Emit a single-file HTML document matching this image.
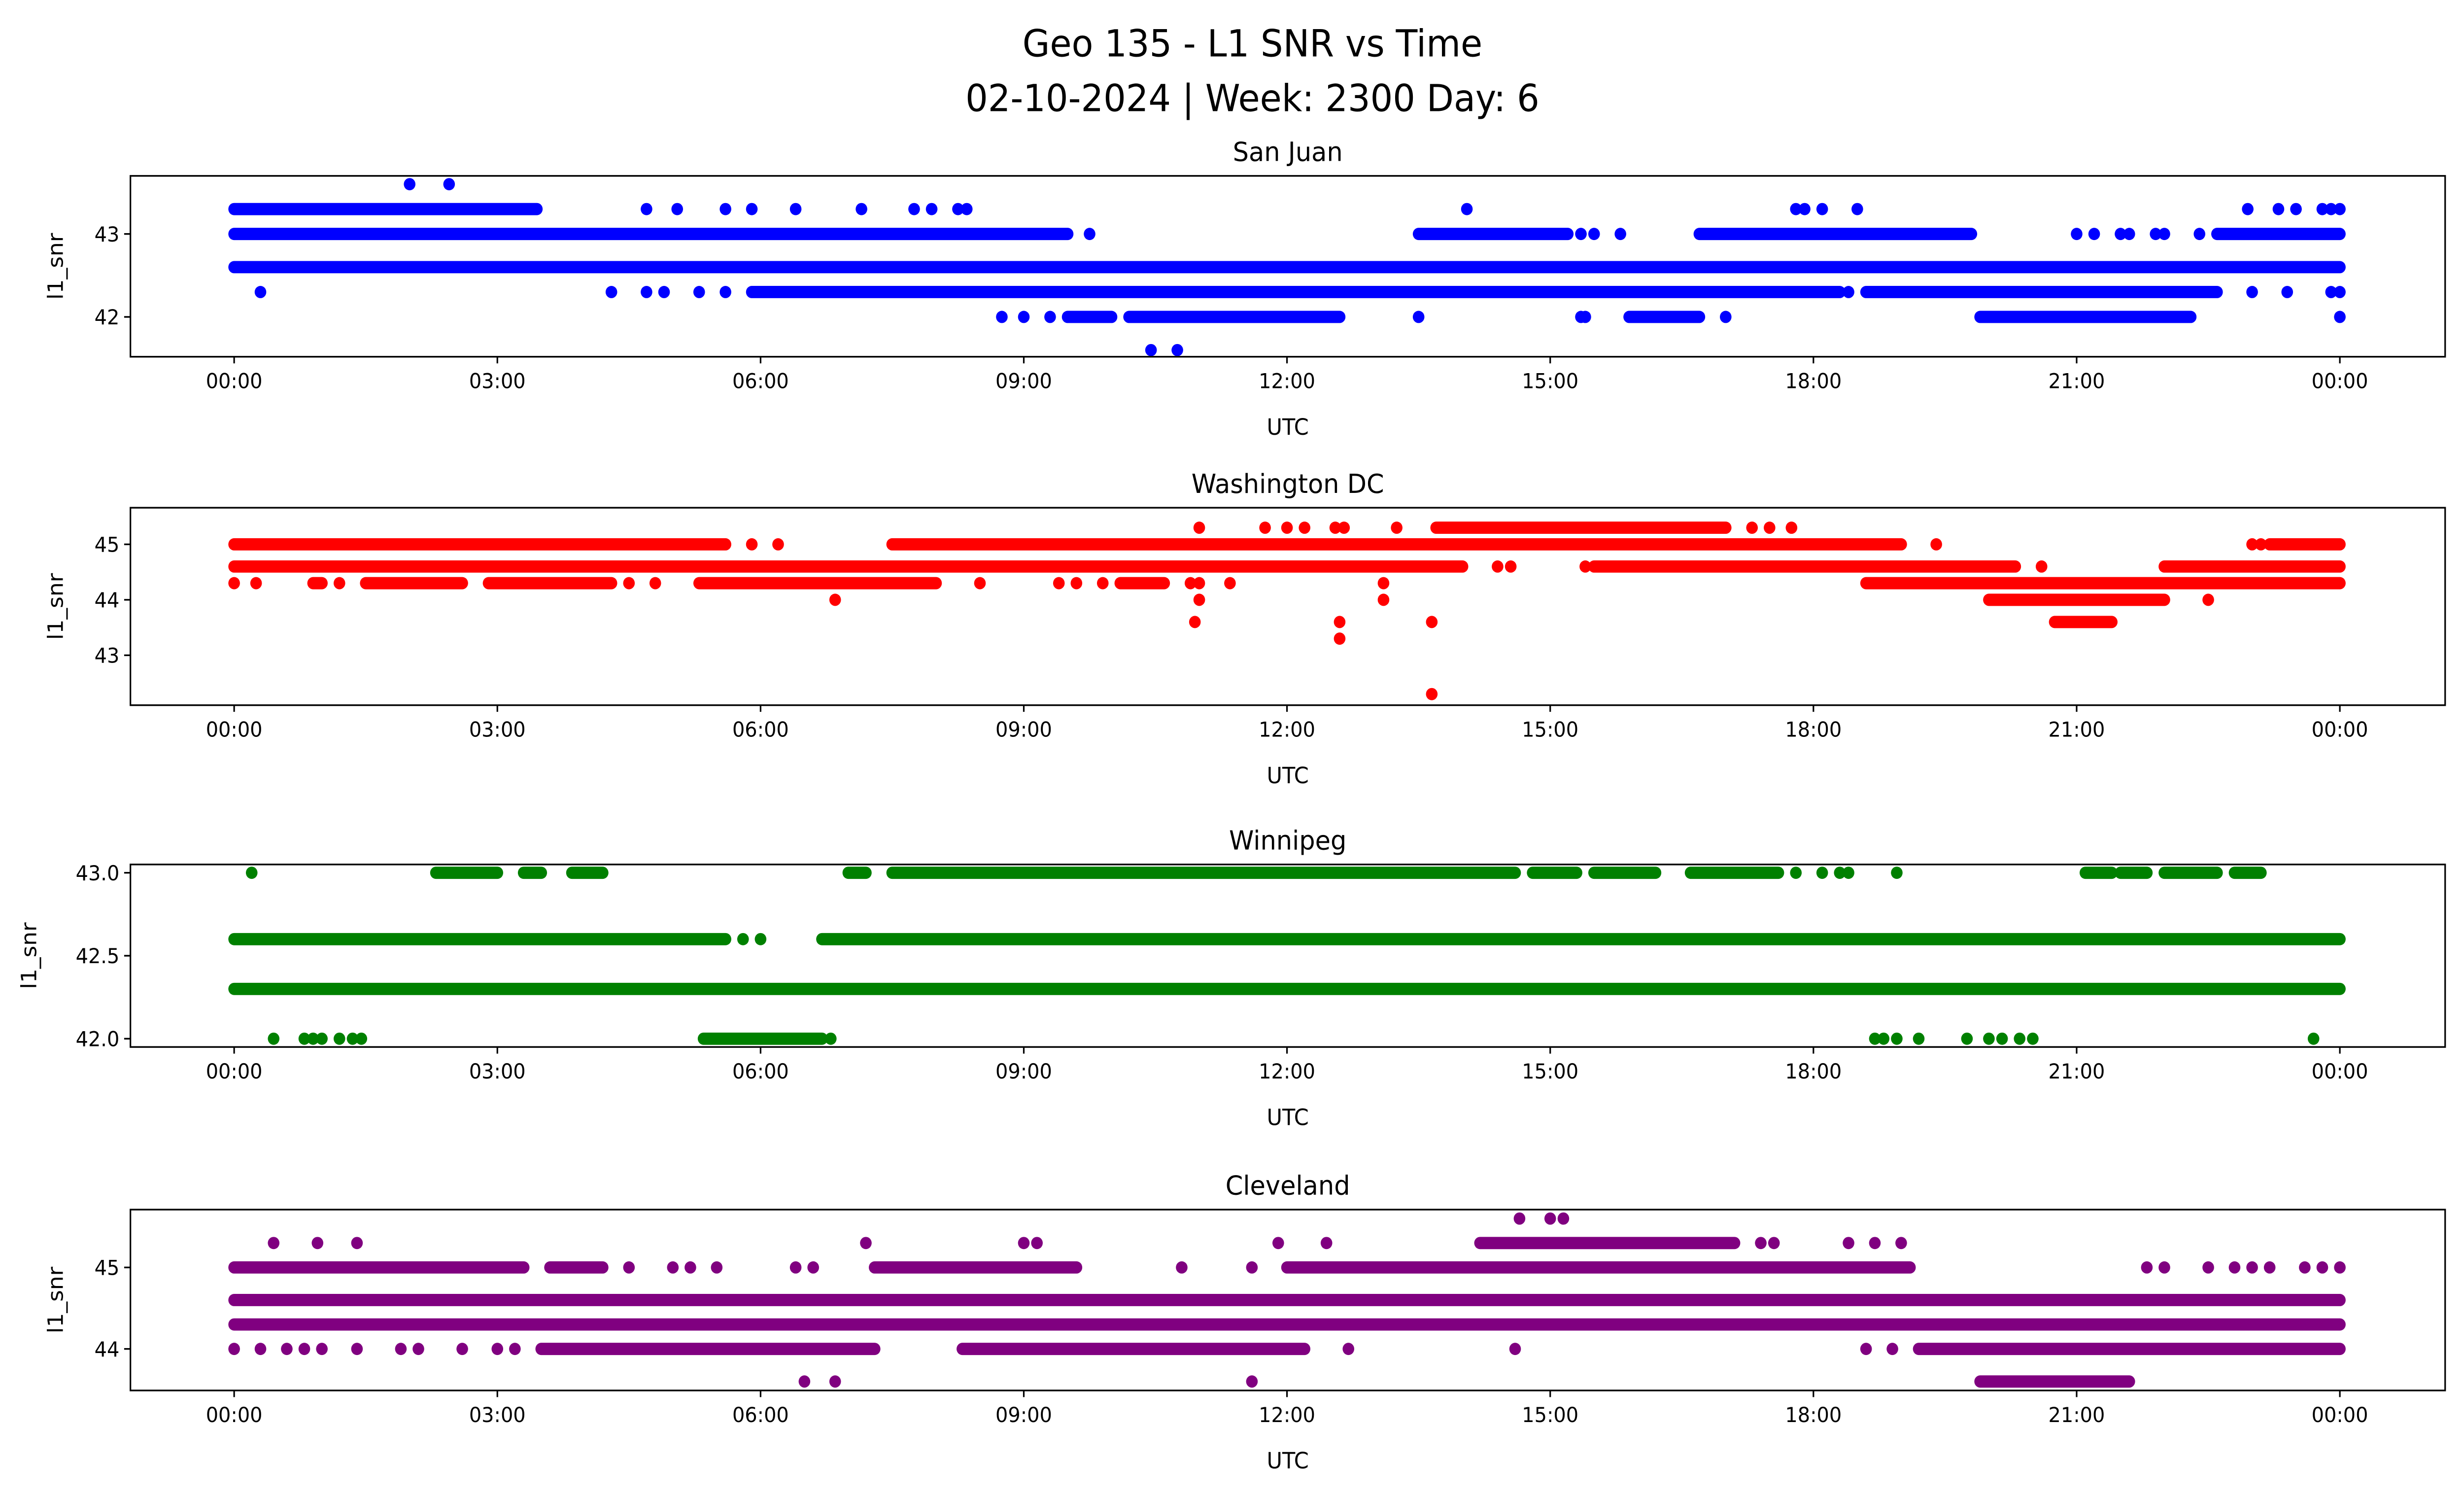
<!DOCTYPE html>
<html><head><meta charset="utf-8"><style>
html,body{margin:0;padding:0;background:#fff;overflow:hidden;width:100%;height:100%}
svg{display:block;font-family:"DejaVu Sans","Liberation Sans",sans-serif;width:100vw;height:100vh}
</style></head><body>
<svg id="chart" viewBox="0 0 1568 901" preserveAspectRatio="none" xmlns="http://www.w3.org/2000/svg">
<text x="797" y="34" font-size="22.5" text-anchor="middle">Geo 135 - L1 SNR vs Time</text>
<text x="797" y="67" font-size="22.5" text-anchor="middle">02-10-2024 | Week: 2300 Day: 6</text>
</svg>
<script>
const xTickHours = [0,3,6,9,12,15,18,21,24];
const xTickLabels = ["00:00","03:00","06:00","09:00","12:00","15:00","18:00","21:00","00:00"];

const sjRuns = [[43.3,0,3.45],[43.0,0,9.5],[43.0,13.5,15.2],[43.0,16.7,19.8],[43.0,22.6,24],[42.6,0,24],[42.3,5.9,18.3],[42.3,18.6,22.6],[42.0,9.5,10.0],[42.0,10.2,12.6],[42.0,15.9,16.7],[42.0,19.9,22.3]];
const sjPoints = [[43.6,2.0],[43.6,2.45],[43.3,4.7],[43.3,5.05],[43.3,5.6],[43.3,5.9],[43.3,6.4],[43.3,7.15],[43.3,7.75],[43.3,7.95],[43.3,8.25],[43.3,8.35],[43.3,14.05],[43.3,17.8],[43.3,17.9],[43.3,18.1],[43.3,18.5],[43.3,22.95],[43.3,23.3],[43.3,23.5],[43.3,23.8],[43.3,23.9],[43.3,24.0],[43.0,9.75],[43.0,15.35],[43.0,15.5],[43.0,15.8],[43.0,21.0],[43.0,21.2],[43.0,21.5],[43.0,21.6],[43.0,21.9],[43.0,22.0],[43.0,22.4],[42.3,0.3],[42.3,4.3],[42.3,4.7],[42.3,4.9],[42.3,5.3],[42.3,5.6],[42.3,18.4],[42.3,23.0],[42.3,23.4],[42.3,23.9],[42.3,24.0],[42.0,8.75],[42.0,9.0],[42.0,9.3],[42.0,13.5],[42.0,15.35],[42.0,15.4],[42.0,17.0],[42.0,24.0],[41.6,10.45],[41.6,10.75]];
const sjTicks = [42,43];

const dcRuns = [[45.3,13.7,17.0],[45.0,0,5.6],[45.0,7.5,19.0],[45.0,23.2,24],[44.6,0,14.0],[44.6,15.5,20.3],[44.6,22.0,24],[44.3,0.9,1.0],[44.3,1.5,2.6],[44.3,2.9,4.3],[44.3,5.3,8.0],[44.3,10.1,10.6],[44.3,18.6,24],[44.0,20.0,22.0],[43.6,20.75,21.4]];
const dcPoints = [[45.3,11.0],[45.3,11.75],[45.3,12.0],[45.3,12.2],[45.3,12.55],[45.3,12.65],[45.3,13.25],[45.3,17.3],[45.3,17.5],[45.3,17.75],[45.0,5.9],[45.0,6.2],[45.0,19.4],[45.0,23.0],[45.0,23.1],[44.6,14.4],[44.6,14.55],[44.6,15.4],[44.6,20.6],[44.3,0],[44.3,0.25],[44.3,1.2],[44.3,4.5],[44.3,4.8],[44.3,8.5],[44.3,9.4],[44.3,9.6],[44.3,9.9],[44.3,10.9],[44.3,11.0],[44.3,11.35],[44.3,13.1],[44.0,6.85],[44.0,11.0],[44.0,13.1],[44.0,22.5],[43.6,10.95],[43.6,12.6],[43.6,13.65],[43.3,12.6],[42.3,13.65]];
const dcTicks = [43,44,45];

const wpRuns = [[43.0,2.3,3.0],[43.0,3.3,3.5],[43.0,3.85,4.2],[43.0,7.0,7.2],[43.0,7.5,14.6],[43.0,14.8,15.3],[43.0,15.5,16.2],[43.0,16.6,17.6],[43.0,21.1,21.4],[43.0,21.5,21.8],[43.0,22.0,22.6],[43.0,22.8,23.1],[42.6,0,5.6],[42.6,6.7,24],[42.3,0,24],[42.0,5.35,6.7]];
const wpPoints = [[43.0,0.2],[43.0,17.8],[43.0,18.1],[43.0,18.3],[43.0,18.4],[43.0,18.95],[42.6,5.8],[42.6,6.0],[42.0,0.45],[42.0,0.8],[42.0,0.9],[42.0,1.0],[42.0,1.2],[42.0,1.35],[42.0,1.45],[42.0,6.8],[42.0,18.7],[42.0,18.8],[42.0,18.95],[42.0,19.2],[42.0,19.75],[42.0,20.0],[42.0,20.15],[42.0,20.35],[42.0,20.5],[42.0,23.7]];
const wpTicks = [42.0,42.5,43.0];

const clRuns = [[45.3,14.2,17.1],[45.0,0,3.3],[45.0,3.6,4.2],[45.0,7.3,9.6],[45.0,12.0,19.1],[44.6,0,24],[44.3,0,24],[44.0,3.5,7.3],[44.0,8.3,12.2],[44.0,19.2,24],[43.6,19.9,21.6]];
const clPoints = [[45.6,14.65],[45.6,15.0],[45.6,15.15],[45.3,0.45],[45.3,0.95],[45.3,1.4],[45.3,7.2],[45.3,9.0],[45.3,9.15],[45.3,11.9],[45.3,12.45],[45.3,17.4],[45.3,17.55],[45.3,18.4],[45.3,18.7],[45.3,19.0],[45.0,4.5],[45.0,5.0],[45.0,5.2],[45.0,5.5],[45.0,6.4],[45.0,6.6],[45.0,10.8],[45.0,11.6],[45.0,21.8],[45.0,22.0],[45.0,22.5],[45.0,22.8],[45.0,23.0],[45.0,23.2],[45.0,23.6],[45.0,23.8],[45.0,24.0],[44.0,0],[44.0,0.3],[44.0,0.6],[44.0,0.8],[44.0,1.0],[44.0,1.4],[44.0,1.9],[44.0,2.1],[44.0,2.6],[44.0,3.0],[44.0,3.2],[44.0,12.7],[44.0,14.6],[44.0,18.6],[44.0,18.9],[43.6,6.5],[43.6,6.85],[43.6,11.6]];
const clTicks = [44,45];

const svg = document.getElementById('chart');
const NS = 'http://www.w3.org/2000/svg';
function mk(tag, attrs, parent){const e=document.createElementNS(NS,tag);for(const k in attrs)e.setAttribute(k,attrs[k]);(parent||svg).appendChild(e);return e;}

const X0=83, X1=1556;
function xScale(h){return 149 + h*(1340/24);}

const panels = [
 {name:'san-juan', title:'San Juan', color:'blue', top:106, bot:215, ymin:41.52, ymax:43.7, runs:sjRuns, pts:sjPoints, ticks:sjTicks, fmt:v=>String(v)},
 {name:'washington-dc', title:'Washington DC', color:'red', top:306, bot:425, ymin:42.1, ymax:45.66, runs:dcRuns, pts:dcPoints, ticks:dcTicks, fmt:v=>String(v)},
 {name:'winnipeg', title:'Winnipeg', color:'green', top:521, bot:631, ymin:41.95, ymax:43.05, runs:wpRuns, pts:wpPoints, ticks:wpTicks, fmt:v=>v.toFixed(1)},
 {name:'cleveland', title:'Cleveland', color:'purple', top:729, bot:838, ymin:43.49, ymax:45.71, runs:clRuns, pts:clPoints, ticks:clTicks, fmt:v=>String(v)}
];

panels.forEach(p=>{
  const g = mk('g',{});
  
  
  const yScale = v => p.bot - (v-p.ymin)/(p.ymax-p.ymin)*(p.bot-p.top);
  const t = mk('text',{x:(X0+X1)/2,y:p.top-9,'font-size':16,'text-anchor':'middle'},g);
  t.textContent = p.title;
  
  
  const marks = mk('g',{},g);
  
  
  p.runs.forEach(r=>{
    const l = mk('line',{x1:xScale(r[1]),x2:xScale(r[2]),y1:yScale(r[0]),y2:yScale(r[0]),stroke:p.color,'stroke-width':7.4,'stroke-linecap':'round'},marks);
    
    
  });
  p.pts.forEach(pt=>{
    const c = mk('circle',{cx:xScale(pt[1]),cy:yScale(pt[0]),r:3.7,fill:p.color},marks);
    
    
  });
  const frame = mk('rect',{x:X0,y:p.top,width:X1-X0,height:p.bot-p.top,fill:'none',stroke:'#000','stroke-width':1},g);
  
  
  xTickHours.forEach((h,i)=>{
    const x = xScale(h);
    mk('line',{x1:x,x2:x,y1:p.bot,y2:p.bot+4,stroke:'#000','stroke-width':1},g);
    const tl = mk('text',{x:x,y:p.bot+19,'font-size':12.5,'text-anchor':'middle'},g);
    tl.textContent = xTickLabels[i];
    
    
  });
  const xl = mk('text',{x:(X0+X1)/2,y:p.bot+47,'font-size':13.5,'text-anchor':'middle'},g);
  xl.textContent = 'UTC';
  
  
  p.ticks.forEach(v=>{
    const y = yScale(v);
    mk('line',{x1:X0-4,x2:X0,y1:y,y2:y,stroke:'#000','stroke-width':1},g);
    const yl = mk('text',{x:X0-7,y:y+4.5,'font-size':12.5,'text-anchor':'end'},g);
    yl.textContent = p.fmt(v);
    
    
  });
  const yt = mk('text',{x:0,y:0,'font-size':13.5,'text-anchor':'middle'},g);
  const ytx = p.name==='winnipeg' ? 23 : 40;
  yt.setAttribute('transform', `translate(${ytx},${(p.top+p.bot)/2}) rotate(-90)`);
  yt.textContent = 'l1_snr';
  
  
});
</script>
</body></html>
